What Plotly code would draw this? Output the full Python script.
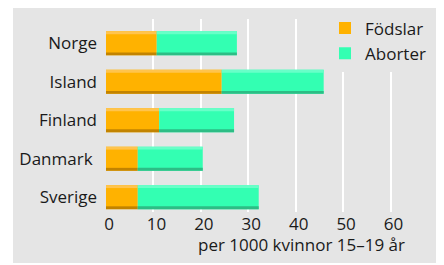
import plotly.graph_objects as go

countries = ["Norge", "Island", "Finland", "Danmark", "Sverige"]
country_labels = ["Norge", "Island", "Finland", "Danmark\u00a0", "Sverige"]
fodslar = [10.7, 24.4, 11.2, 6.7, 6.7]
aborter = [16.9, 21.5, 15.8, 13.7, 25.5]
x_ticks = [0, 10, 20, 30, 40, 50, 60]
x_title = "per 1000 kvinnor 15–19 år"

FONT = "Open Sans"
BG = "#e5e5e5"
ORANGE, ORANGE_HI, ORANGE_LO = "#ffb200", "#ffc44d", "#c28300"
GREEN, GREEN_HI, GREEN_LO = "#33ffb2", "#68ffc8", "#2dbd85"

W = 0.624      # bar thickness (category units)
S = 0.075      # strip thickness

fig = go.Figure()

def add_series(name, vals, base, main, hi, lo):
    fig.add_trace(go.Bar(y=countries, x=vals, base=base, orientation="h", name=name,
                         marker=dict(color=main, line=dict(width=0)), width=W,
                         legendgroup=name, showlegend=True, hoverinfo="skip"))
    fig.add_trace(go.Bar(y=countries, x=vals, base=base, orientation="h",
                         marker=dict(color=hi, line=dict(width=0)), width=S, offset=W / 2 - S,
                         legendgroup=name, showlegend=False, hoverinfo="skip"))
    fig.add_trace(go.Bar(y=countries, x=vals, base=base, orientation="h",
                         marker=dict(color=lo, line=dict(width=0)), width=S, offset=-W / 2,
                         legendgroup=name, showlegend=False, hoverinfo="skip"))

add_series("Födslar", fodslar, [0] * len(fodslar), ORANGE, ORANGE_HI, ORANGE_LO)
add_series("Aborter", aborter, fodslar, GREEN, GREEN_HI, GREEN_LO)

# page body has an 8px margin: figure coordinates = window coordinates - 8
FW, FH = 436, 257
L, R, T, B = 98, 25, 11, 53
PW, PH = FW - L - R, FH - T - B
fig.update_layout(
    width=FW, height=FH,
    margin=dict(l=L, r=R, t=T, b=B, autoexpand=False),
    paper_bgcolor="white", plot_bgcolor=BG,
    barmode="overlay",
    font=dict(family=FONT, size=17, color="#1a1a1a"),
    showlegend=True,
    legend=dict(x=(317 - L) / PW, y=1 + (T - 2.5) / PH, xanchor="left", yanchor="top",
                bgcolor=BG, borderwidth=0, font=dict(size=17),
                tracegroupgap=5, traceorder="normal"),
    xaxis=dict(range=[0, 66], tickvals=x_ticks, showgrid=True, gridcolor="white",
               gridwidth=2, zeroline=False, showline=False, ticks="",
               tickfont=dict(size=17), ticklabelshift=3, fixedrange=True),
    yaxis=dict(type="category", categoryorder="array", categoryarray=countries[::-1],
               tickvals=countries, ticktext=country_labels,
               range=[-0.385, 4.632], showgrid=False, zeroline=False, ticks="",
               ticklabelstandoff=8, tickfont=dict(size=17), fixedrange=True),
    shapes=[dict(type="rect", xref="paper", yref="paper",
                 x0=(5 - L) / PW, x1=(430 - L) / PW,
                 y0=-(255 - (FH - B)) / PH, y1=1 + (T + 8) / PH,
                 fillcolor=BG, line=dict(width=0), layer="below")],
    annotations=[dict(text=x_title, xref="paper", yref="paper",
                      x=(399 - L) / PW, xanchor="right",
                      y=-(250 - (FH - B)) / PH, yanchor="bottom",
                      showarrow=False, font=dict(size=17))],
)

fig.write_html("out.html")
